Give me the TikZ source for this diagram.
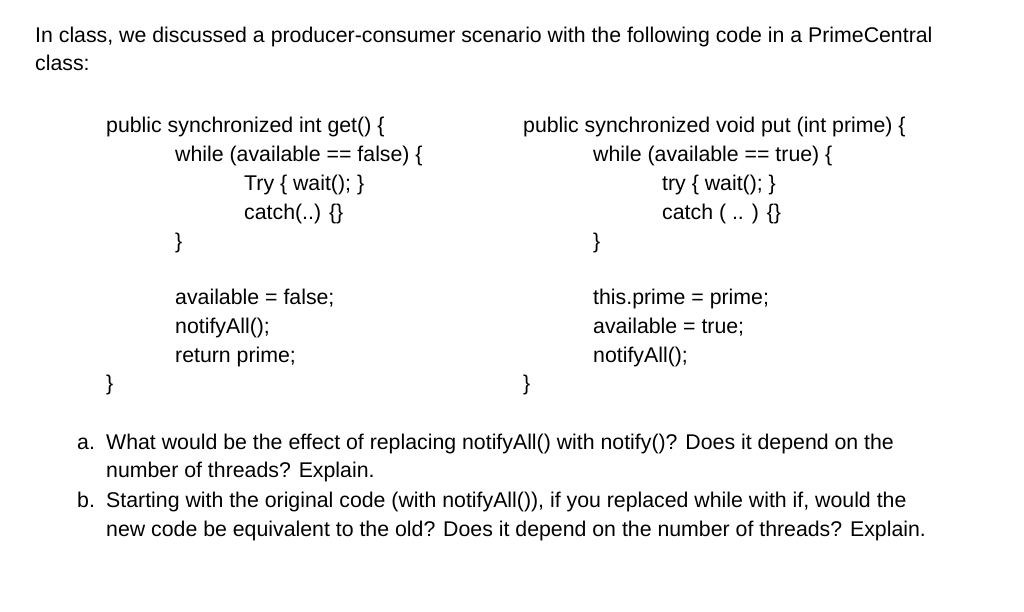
\documentclass[tikz,border=0pt]{standalone}
\usepackage{fontspec}
\setmainfont{Liberation Sans}
\begin{document}
\begin{tikzpicture}[x=1pt,y=-1pt,t/.style={anchor=base west,inner sep=0pt,font=\fontsize{21.3}{25}\selectfont}]
\useasboundingbox (0,0) rectangle (1024,612);
\node[t] (l1) at (35,43) {In class, we discussed a producer-consumer scenario with the following code in a PrimeCentral};
\node[t] (l2) at (35,71) {class:};
\node[t] (g1) at (106,133) {public synchronized int get() \{};
\node[t] (g2) at (175,162) {while (available == false) \{};
\node[t] (g3) at (244,191) {Try \{ wait(); \}};
\node[t] (g4) at (244,219) {catch(..) \{\}};
\node[t] (g5) at (175,248) {\}};
\node[t] (g6) at (175,304) {available = false;};
\node[t] (g7) at (175,333) {notifyAll();};
\node[t] (g8) at (175,362) {return prime;};
\node[t] (g9) at (106,390) {\}};
\node[t] (p1) at (523,133) {public synchronized void put (int prime) \{};
\node[t] (p2) at (593,162) {while (available == true) \{};
\node[t] (p3) at (662,191) {try \{ wait(); \}};
\node[t] (p4) at (662,219) {catch ( .. ) \{\}};
\node[t] (p5) at (593,248) {\}};
\node[t] (p6) at (593,304) {this.prime = prime;};
\node[t] (p7) at (593,333) {available = true;};
\node[t] (p8) at (593,362) {notifyAll();};
\node[t] (p9) at (523,390) {\}};
\node[t] (qa) at (77,449) {a.};
\node[t] (qa1) at (106,449) {What would be the effect of replacing notifyAll() with notify()? Does it depend on the};
\node[t] (qa2) at (106,477) {number of threads? Explain.};
\node[t] (qb) at (77,507) {b.};
\node[t] (qb1) at (106,507) {Starting with the original code (with notifyAll()), if you replaced while with if, would the};
\node[t] (qb2) at (106,536) {new code be equivalent to the old? Does it depend on the number of threads? Explain.};
\end{tikzpicture}
\end{document}
